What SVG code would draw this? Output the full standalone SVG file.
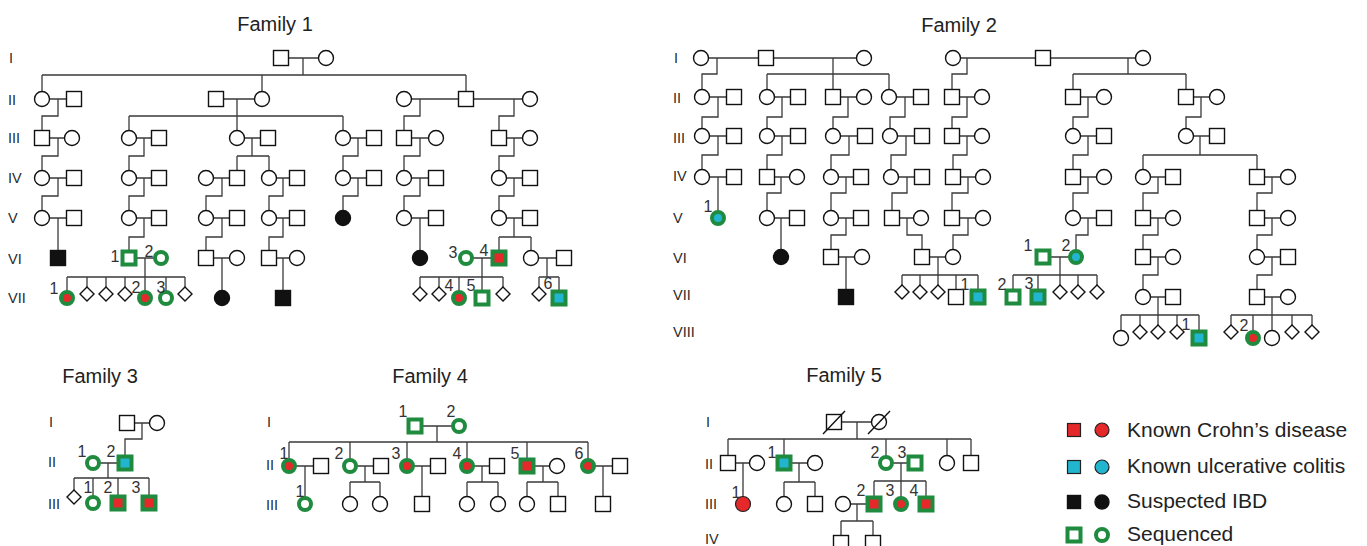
<svg xmlns="http://www.w3.org/2000/svg" width="1367" height="546" viewBox="0 0 1367 546">
<style>
.n{fill:#fff;stroke:#111;stroke-width:1.4}
.k{fill:#111;stroke:#111;stroke-width:1.4}
.g{fill:#fff;stroke:#1f8b3f;stroke-width:4}
.gr{fill:#e5282a;stroke:#1f8b3f;stroke-width:4}
.gc{fill:#22b5d0;stroke:#1f8b3f;stroke-width:4}
.r{fill:#e5282a;stroke:#222;stroke-width:1.2}
.c{fill:#22b5d0;stroke:#222;stroke-width:1.2}
.ln{fill:none;stroke:#3a3a3a;stroke-width:1.3}
.sl{stroke:#111;stroke-width:1.4}
text{font-family:"Liberation Sans",Arial,Helvetica,sans-serif}
.t{font-size:20px;fill:#222;text-anchor:middle}
.rn{font-size:14.5px;fill:#2a2a2a}
.lb{font-size:16px;fill:#333;text-anchor:middle}
.lg{font-size:21px;fill:#222}
</style>
<defs>
<rect id="S" x="-7.5" y="-7.5" width="15" height="15"/>
<circle id="C" r="7.5"/>
<rect id="GS" x="-6.5" y="-6.5" width="13" height="13"/>
<circle id="GC" r="6"/>
<path id="D" d="M0-7L7 0L0 7L-7 0Z"/>
</defs>
<rect width="1367" height="546" fill="#fff"/>

<g id="titles">
<text class="t" x="275" y="31">Family 1</text>
<text class="t" x="959" y="32">Family 2</text>
<text class="t" x="100" y="383">Family 3</text>
<text class="t" x="430" y="383">Family 4</text>
<text class="t" x="844" y="382">Family 5</text>
</g>
<g id="generations">
<text class="rn" x="9" y="63">I</text><text class="rn" x="8" y="105">II</text><text class="rn" x="8" y="143">III</text><text class="rn" x="8" y="183">IV</text><text class="rn" x="8" y="223">V</text><text class="rn" x="8" y="264">VI</text><text class="rn" x="8" y="303">VII</text>
<text class="rn" x="674" y="63">I</text><text class="rn" x="673" y="103">II</text><text class="rn" x="673" y="143">III</text><text class="rn" x="673" y="181">IV</text><text class="rn" x="673" y="223">V</text><text class="rn" x="673" y="263">VI</text><text class="rn" x="673" y="300">VII</text><text class="rn" x="673" y="337">VIII</text>
<text class="rn" x="49" y="427">I</text><text class="rn" x="48" y="467">II</text><text class="rn" x="48" y="509">III</text>
<text class="rn" x="267" y="427">I</text><text class="rn" x="266" y="470">II</text><text class="rn" x="266" y="510">III</text>
<text class="rn" x="706" y="427">I</text><text class="rn" x="705" y="469">II</text><text class="rn" x="705" y="509">III</text><text class="rn" x="705" y="544">IV</text>
</g>

<g id="connectors" class="ln">
<!-- Family 1 -->
<path d="M281 58H326M303 58V75M42 75H466M42 75V99M262 75V99M466 75V99
M42 99H74M58 99V116H42V138
M216 99H262M237 99V138M129 116H343M129 116V138M343 116V138
M404 99H530M420 99V116H404V138M514 99V116H499V138
M42 138H72M58 138V156H42V178
M129 138H159M144 138V156H129V178
M237 138H268M252 138V156M237 156H269M237 156V178M269 156V178
M343 138H374M358 138V156H343V178
M404 138H436M420 138V156H404V178
M499 138H530M514 138V156H499V178
M42 178H74M58 178V196H42V218
M129 178H159M144 178V196H129V218
M206 178H237M222 178V196H206V218
M269 178H297M283 178V196H269V218
M343 178H374M358 178V196H343V218
M404 178H436M420 178V196H404V218
M499 178H530M514 178V196H499V218
M42 218H74M58 218V258
M129 218H159M144 218V237H129V258
M206 218H237M222 218V237H206V258
M269 218H297M283 218V237H269V258
M404 218H436M420 218V258
M499 218H530M514 218V237M499 237H531M499 237V258M531 237V258
M129 258H161M145 258V298M67 277H185M67 277V298M87 277V294M106 277V294M125 277V294M166 277V298M185 277V294
M206 258H237M222 258V298
M269 258H297M283 258V298
M466 258H499M482 258V298M420 277H503M420 277V294M439 277V294M459 277V298M503 277V294
M531 258H564M547 258V277M539 277H559M539 277V294M559 277V298"/>
<!-- Family 2 -->
<path d="M701 58H864M953 58H1143
M717 58V74H702V97M833 58V97M767 74H889M767 74V97M889 74V97
M967 58V74H952V97M1128 58V74M1073 74H1186M1073 74V97M1186 74V97
M702 97H734M718 97V117H702V136
M767 97H798M782 97V117H767V136
M833 97H864M848 97V117H833V136
M889 97H921M905 97V117H890V136
M952 97H982M967 97V117H952V136
M1073 97H1104M1088 97V117H1073V136
M1186 97H1217M1201 97V117H1186V136
M702 136H734M718 136V155H702V177
M767 136H798M782 136V155H767V177
M833 136H865M849 136V155H831V177
M890 136H922M906 136V155H891V177
M952 136H982M967 136V155H953V177
M1073 136H1104M1088 136V155H1073V177
M1186 136H1217M1200 136V155M1143 155H1257M1143 155V177M1257 155V177
M702 177H734M718 177V218
M767 177H797M781 177V193H767V218
M831 177H861M846 177V193H831V218
M891 177H922M907 177V193H892V218
M953 177H983M968 177V193H952V218
M1073 177H1104M1088 177V193H1073V218
M1143 177H1173M1158 177V193H1143V218
M1257 177H1288M1272 177V193H1257V218
M767 218H797M781 218V257
M831 218H861M846 218V235H831V257
M892 218H921M907 218V235H922V257
M952 218H983M968 218V235H953V257
M1073 218H1104M1088 218V235H1076V257
M1143 218H1173M1158 218V235H1143V257
M1257 218H1288M1272 218V235H1257V257
M831 257H862M846 257V297
M922 257H953M938 257V292M902 275H978M902 275V292M920 275V292M956 275V297M978 275V297
M1043 257H1076M1060 257V292M1013 275H1097M1013 275V297M1038 275V297M1078 275V292M1097 275V292
M1143 257H1173M1158 257V275H1143V297
M1257 257H1288M1272 257V275H1257V297
M1143 297H1173M1158 297V332M1121 315H1199M1121 315V338M1140 315V332M1177 315V332M1199 315V338
M1257 297H1288M1272 297V338M1231 315H1312M1231 315V332M1253 315V338M1292 315V332M1312 315V332"/>
<!-- Family 3 -->
<path d="M127 423H157M142 423V439H125V463M93 463H125M108 463V478M74 478H149M74 478V497M93 478V503M118 478V503M149 478V503"/>
<!-- Family 4 -->
<path d="M415 426H459M437 426V442M289 442H588M289 442V466M350 442V466M407 442V466M467 442V466M527 442V466M588 442V466
M289 466H321M305 466V504
M350 466H381M365 466V482M350 482H380M350 482V504M380 482V504
M407 466H438M422 466V504
M467 466H497M482 466V482M467 482H498M467 482V504M498 482V504
M527 466H557M543 466V482M527 482H558M527 482V504M558 482V504
M588 466H620M603 466V504"/>
<!-- Family 5 -->
<path d="M834 422H879M857 422V439M728 439H971M728 439V463M784 439V463M886 439V463M947 439V463M971 439V463
M728 463H757M743 463V504
M784 463H815M799 463V482M784 482H815M784 482V504M815 482V504
M886 463H915M901 463V504M874 481H926M874 481V504M926 481V504
M843 504H874M857 504V521M841 521H873M841 521V543M873 521V543"/>
</g>

<g id="family1">
<g id="f1-I-1"><use href="#S" x="281" y="58" class="n"/></g>
<g id="f1-I-2"><use href="#C" x="326" y="58" class="n"/></g>
<g id="f1-II-1"><use href="#C" x="42" y="99" class="n"/></g>
<g id="f1-II-2"><use href="#S" x="74" y="99" class="n"/></g>
<g id="f1-II-3"><use href="#S" x="216" y="99" class="n"/></g>
<g id="f1-II-4"><use href="#C" x="262" y="99" class="n"/></g>
<g id="f1-II-5"><use href="#C" x="404" y="99" class="n"/></g>
<g id="f1-II-6"><use href="#S" x="466" y="99" class="n"/></g>
<g id="f1-II-7"><use href="#C" x="530" y="99" class="n"/></g>
<g id="f1-III-1"><use href="#S" x="42" y="138" class="n"/></g>
<g id="f1-III-2"><use href="#C" x="72" y="138" class="n"/></g>
<g id="f1-III-3"><use href="#C" x="129" y="138" class="n"/></g>
<g id="f1-III-4"><use href="#S" x="159" y="138" class="n"/></g>
<g id="f1-III-5"><use href="#C" x="237" y="138" class="n"/></g>
<g id="f1-III-6"><use href="#S" x="268" y="138" class="n"/></g>
<g id="f1-III-7"><use href="#C" x="343" y="138" class="n"/></g>
<g id="f1-III-8"><use href="#S" x="374" y="138" class="n"/></g>
<g id="f1-III-9"><use href="#S" x="404" y="138" class="n"/></g>
<g id="f1-III-10"><use href="#C" x="436" y="138" class="n"/></g>
<g id="f1-III-11"><use href="#S" x="499" y="138" class="n"/></g>
<g id="f1-III-12"><use href="#C" x="530" y="138" class="n"/></g>
<g id="f1-IV-1"><use href="#C" x="42" y="178" class="n"/></g>
<g id="f1-IV-2"><use href="#S" x="74" y="178" class="n"/></g>
<g id="f1-IV-3"><use href="#C" x="129" y="178" class="n"/></g>
<g id="f1-IV-4"><use href="#S" x="159" y="178" class="n"/></g>
<g id="f1-IV-5"><use href="#C" x="206" y="178" class="n"/></g>
<g id="f1-IV-6"><use href="#S" x="237" y="178" class="n"/></g>
<g id="f1-IV-7"><use href="#C" x="269" y="178" class="n"/></g>
<g id="f1-IV-8"><use href="#S" x="297" y="178" class="n"/></g>
<g id="f1-IV-9"><use href="#C" x="343" y="178" class="n"/></g>
<g id="f1-IV-10"><use href="#S" x="374" y="178" class="n"/></g>
<g id="f1-IV-11"><use href="#C" x="404" y="178" class="n"/></g>
<g id="f1-IV-12"><use href="#S" x="436" y="178" class="n"/></g>
<g id="f1-IV-13"><use href="#C" x="499" y="178" class="n"/></g>
<g id="f1-IV-14"><use href="#S" x="530" y="178" class="n"/></g>
<g id="f1-V-1"><use href="#C" x="42" y="218" class="n"/></g>
<g id="f1-V-2"><use href="#S" x="74" y="218" class="n"/></g>
<g id="f1-V-3"><use href="#C" x="129" y="218" class="n"/></g>
<g id="f1-V-4"><use href="#S" x="159" y="218" class="n"/></g>
<g id="f1-V-5"><use href="#C" x="206" y="218" class="n"/></g>
<g id="f1-V-6"><use href="#S" x="237" y="218" class="n"/></g>
<g id="f1-V-7"><use href="#C" x="269" y="218" class="n"/></g>
<g id="f1-V-8"><use href="#S" x="297" y="218" class="n"/></g>
<g id="f1-V-9"><use href="#C" x="343" y="218" class="k"/></g>
<g id="f1-V-10"><use href="#C" x="404" y="218" class="n"/></g>
<g id="f1-V-11"><use href="#S" x="436" y="218" class="n"/></g>
<g id="f1-V-12"><use href="#C" x="499" y="218" class="n"/></g>
<g id="f1-V-13"><use href="#S" x="530" y="218" class="n"/></g>
<g id="f1-VI-a"><use href="#S" x="58" y="258" class="k"/></g>
<g id="f1-VI-1"><use href="#GS" x="129" y="258" class="g"/><text class="lb" x="115" y="262">1</text></g>
<g id="f1-VI-2"><use href="#GC" x="161" y="258" class="g"/><text class="lb" x="149" y="257">2</text></g>
<g id="f1-VI-b"><use href="#S" x="206" y="258" class="n"/></g>
<g id="f1-VI-c"><use href="#C" x="237" y="258" class="n"/></g>
<g id="f1-VI-d"><use href="#S" x="269" y="258" class="n"/></g>
<g id="f1-VI-e"><use href="#C" x="297" y="258" class="n"/></g>
<g id="f1-VI-f"><use href="#C" x="420" y="258" class="k"/></g>
<g id="f1-VI-3"><use href="#GC" x="466" y="258" class="g"/><text class="lb" x="453" y="258">3</text></g>
<g id="f1-VI-4"><use href="#GS" x="499" y="258" class="gr"/><text class="lb" x="484" y="256">4</text></g>
<g id="f1-VI-g"><use href="#C" x="531" y="258" class="n"/></g>
<g id="f1-VI-h"><use href="#S" x="564" y="258" class="n"/></g>
<g id="f1-VII-1"><use href="#GC" x="67" y="298" class="gr"/><text class="lb" x="54" y="294">1</text></g>
<g id="f1-VII-a"><use href="#D" x="87" y="294" class="n"/></g>
<g id="f1-VII-b"><use href="#D" x="106" y="294" class="n"/></g>
<g id="f1-VII-c"><use href="#D" x="125" y="294" class="n"/></g>
<g id="f1-VII-2"><use href="#GC" x="145" y="298" class="gr"/><text class="lb" x="136" y="293">2</text></g>
<g id="f1-VII-3"><use href="#GC" x="166" y="298" class="g"/><text class="lb" x="161" y="293">3</text></g>
<g id="f1-VII-d"><use href="#D" x="185" y="294" class="n"/></g>
<g id="f1-VII-e"><use href="#C" x="222" y="298" class="k"/></g>
<g id="f1-VII-f"><use href="#S" x="283" y="298" class="k"/></g>
<g id="f1-VII-g"><use href="#D" x="420" y="294" class="n"/></g>
<g id="f1-VII-h"><use href="#D" x="439" y="294" class="n"/></g>
<g id="f1-VII-4"><use href="#GC" x="459" y="298" class="gr"/><text class="lb" x="449" y="291">4</text></g>
<g id="f1-VII-5"><use href="#GS" x="482" y="298" class="g"/><text class="lb" x="471" y="291">5</text></g>
<g id="f1-VII-i"><use href="#D" x="503" y="294" class="n"/></g>
<g id="f1-VII-j"><use href="#D" x="539" y="294" class="n"/></g>
<g id="f1-VII-6"><use href="#GS" x="559" y="298" class="gc"/><text class="lb" x="548" y="289">6</text></g>
</g>

<g id="family2">
<g id="f2-I-1"><use href="#C" x="701" y="58" class="n"/></g>
<g id="f2-I-2"><use href="#S" x="766" y="58" class="n"/></g>
<g id="f2-I-3"><use href="#C" x="864" y="58" class="n"/></g>
<g id="f2-I-4"><use href="#C" x="953" y="58" class="n"/></g>
<g id="f2-I-5"><use href="#S" x="1043" y="58" class="n"/></g>
<g id="f2-I-6"><use href="#C" x="1143" y="58" class="n"/></g>
<g id="f2-II-1"><use href="#C" x="702" y="97" class="n"/></g>
<g id="f2-II-2"><use href="#S" x="734" y="97" class="n"/></g>
<g id="f2-II-3"><use href="#C" x="767" y="97" class="n"/></g>
<g id="f2-II-4"><use href="#S" x="798" y="97" class="n"/></g>
<g id="f2-II-5"><use href="#S" x="833" y="97" class="n"/></g>
<g id="f2-II-6"><use href="#C" x="864" y="97" class="n"/></g>
<g id="f2-II-7"><use href="#C" x="889" y="97" class="n"/></g>
<g id="f2-II-8"><use href="#S" x="921" y="97" class="n"/></g>
<g id="f2-II-9"><use href="#S" x="952" y="97" class="n"/></g>
<g id="f2-II-10"><use href="#C" x="982" y="97" class="n"/></g>
<g id="f2-II-11"><use href="#S" x="1073" y="97" class="n"/></g>
<g id="f2-II-12"><use href="#C" x="1104" y="97" class="n"/></g>
<g id="f2-II-13"><use href="#S" x="1186" y="97" class="n"/></g>
<g id="f2-II-14"><use href="#C" x="1217" y="97" class="n"/></g>
<g id="f2-III-1"><use href="#C" x="702" y="136" class="n"/></g>
<g id="f2-III-2"><use href="#S" x="734" y="136" class="n"/></g>
<g id="f2-III-3"><use href="#C" x="767" y="136" class="n"/></g>
<g id="f2-III-4"><use href="#S" x="798" y="136" class="n"/></g>
<g id="f2-III-5"><use href="#C" x="833" y="136" class="n"/></g>
<g id="f2-III-6"><use href="#S" x="865" y="136" class="n"/></g>
<g id="f2-III-7"><use href="#C" x="890" y="136" class="n"/></g>
<g id="f2-III-8"><use href="#S" x="922" y="136" class="n"/></g>
<g id="f2-III-9"><use href="#S" x="952" y="136" class="n"/></g>
<g id="f2-III-10"><use href="#C" x="982" y="136" class="n"/></g>
<g id="f2-III-11"><use href="#C" x="1073" y="136" class="n"/></g>
<g id="f2-III-12"><use href="#S" x="1104" y="136" class="n"/></g>
<g id="f2-III-13"><use href="#C" x="1186" y="136" class="n"/></g>
<g id="f2-III-14"><use href="#S" x="1217" y="136" class="n"/></g>
<g id="f2-IV-1"><use href="#C" x="702" y="177" class="n"/></g>
<g id="f2-IV-2"><use href="#S" x="734" y="177" class="n"/></g>
<g id="f2-IV-3"><use href="#S" x="767" y="177" class="n"/></g>
<g id="f2-IV-4"><use href="#C" x="797" y="177" class="n"/></g>
<g id="f2-IV-5"><use href="#C" x="831" y="177" class="n"/></g>
<g id="f2-IV-6"><use href="#S" x="861" y="177" class="n"/></g>
<g id="f2-IV-7"><use href="#C" x="891" y="177" class="n"/></g>
<g id="f2-IV-8"><use href="#S" x="922" y="177" class="n"/></g>
<g id="f2-IV-9"><use href="#S" x="953" y="177" class="n"/></g>
<g id="f2-IV-10"><use href="#C" x="983" y="177" class="n"/></g>
<g id="f2-IV-11"><use href="#S" x="1073" y="177" class="n"/></g>
<g id="f2-IV-12"><use href="#C" x="1104" y="177" class="n"/></g>
<g id="f2-IV-13"><use href="#C" x="1143" y="177" class="n"/></g>
<g id="f2-IV-14"><use href="#S" x="1173" y="177" class="n"/></g>
<g id="f2-IV-15"><use href="#S" x="1257" y="177" class="n"/></g>
<g id="f2-IV-16"><use href="#C" x="1288" y="177" class="n"/></g>
<g id="f2-V-1"><use href="#GC" x="718" y="218" class="gc"/><text class="lb" x="708" y="212">1</text></g>
<g id="f2-V-2"><use href="#C" x="767" y="218" class="n"/></g>
<g id="f2-V-3"><use href="#S" x="797" y="218" class="n"/></g>
<g id="f2-V-4"><use href="#C" x="831" y="218" class="n"/></g>
<g id="f2-V-5"><use href="#S" x="861" y="218" class="n"/></g>
<g id="f2-V-6"><use href="#S" x="892" y="218" class="n"/></g>
<g id="f2-V-7"><use href="#C" x="921" y="218" class="n"/></g>
<g id="f2-V-8"><use href="#S" x="952" y="218" class="n"/></g>
<g id="f2-V-9"><use href="#C" x="983" y="218" class="n"/></g>
<g id="f2-V-10"><use href="#C" x="1073" y="218" class="n"/></g>
<g id="f2-V-11"><use href="#S" x="1104" y="218" class="n"/></g>
<g id="f2-V-12"><use href="#S" x="1143" y="218" class="n"/></g>
<g id="f2-V-13"><use href="#C" x="1173" y="218" class="n"/></g>
<g id="f2-V-14"><use href="#S" x="1257" y="218" class="n"/></g>
<g id="f2-V-15"><use href="#C" x="1288" y="218" class="n"/></g>
<g id="f2-VI-a"><use href="#C" x="781" y="257" class="k"/></g>
<g id="f2-VI-b"><use href="#S" x="831" y="257" class="n"/></g>
<g id="f2-VI-c"><use href="#C" x="862" y="257" class="n"/></g>
<g id="f2-VI-d"><use href="#S" x="922" y="257" class="n"/></g>
<g id="f2-VI-e"><use href="#C" x="953" y="257" class="n"/></g>
<g id="f2-VI-1"><use href="#GS" x="1043" y="257" class="g"/><text class="lb" x="1028" y="251">1</text></g>
<g id="f2-VI-2"><use href="#GC" x="1076" y="257" class="gc"/><text class="lb" x="1066" y="251">2</text></g>
<g id="f2-VI-f"><use href="#S" x="1143" y="257" class="n"/></g>
<g id="f2-VI-g"><use href="#C" x="1173" y="257" class="n"/></g>
<g id="f2-VI-h"><use href="#C" x="1257" y="257" class="n"/></g>
<g id="f2-VI-i"><use href="#S" x="1288" y="257" class="n"/></g>
<g id="f2-VII-a"><use href="#S" x="846" y="297" class="k"/></g>
<g id="f2-VII-b"><use href="#D" x="902" y="292" class="n"/></g>
<g id="f2-VII-c"><use href="#D" x="920" y="292" class="n"/></g>
<g id="f2-VII-d"><use href="#D" x="938" y="292" class="n"/></g>
<g id="f2-VII-e"><use href="#S" x="956" y="297" class="n"/></g>
<g id="f2-VII-1"><use href="#GS" x="978" y="297" class="gc"/><text class="lb" x="965" y="290">1</text></g>
<g id="f2-VII-2"><use href="#GS" x="1013" y="297" class="g"/><text class="lb" x="1002" y="290">2</text></g>
<g id="f2-VII-3"><use href="#GS" x="1038" y="297" class="gc"/><text class="lb" x="1029" y="289">3</text></g>
<g id="f2-VII-f"><use href="#D" x="1060" y="292" class="n"/></g>
<g id="f2-VII-g"><use href="#D" x="1078" y="292" class="n"/></g>
<g id="f2-VII-h"><use href="#D" x="1097" y="292" class="n"/></g>
<g id="f2-VII-i"><use href="#C" x="1143" y="297" class="n"/></g>
<g id="f2-VII-j"><use href="#S" x="1173" y="297" class="n"/></g>
<g id="f2-VII-k"><use href="#S" x="1257" y="297" class="n"/></g>
<g id="f2-VII-l"><use href="#C" x="1288" y="297" class="n"/></g>
<g id="f2-VIII-a"><use href="#C" x="1121" y="338" class="n"/></g>
<g id="f2-VIII-b"><use href="#D" x="1140" y="332" class="n"/></g>
<g id="f2-VIII-c"><use href="#D" x="1158" y="332" class="n"/></g>
<g id="f2-VIII-d"><use href="#D" x="1177" y="332" class="n"/></g>
<g id="f2-VIII-1"><use href="#GS" x="1199" y="338" class="gc"/><text class="lb" x="1186" y="330">1</text></g>
<g id="f2-VIII-e"><use href="#D" x="1231" y="332" class="n"/></g>
<g id="f2-VIII-2"><use href="#GC" x="1253" y="338" class="gr"/><text class="lb" x="1244" y="331">2</text></g>
<g id="f2-VIII-f"><use href="#C" x="1272" y="338" class="n"/></g>
<g id="f2-VIII-g"><use href="#D" x="1292" y="332" class="n"/></g>
<g id="f2-VIII-h"><use href="#D" x="1312" y="332" class="n"/></g>
</g>

<g id="family3">
<g id="f3-I-1"><use href="#S" x="127" y="423" class="n"/></g>
<g id="f3-I-2"><use href="#C" x="157" y="423" class="n"/></g>
<g id="f3-II-1"><use href="#GC" x="93" y="463" class="g"/><text class="lb" x="82" y="457">1</text></g>
<g id="f3-II-2"><use href="#GS" x="125" y="463" class="gc"/><text class="lb" x="111" y="457">2</text></g>
<g id="f3-III-a"><use href="#D" x="74" y="497" class="n"/></g>
<g id="f3-III-1"><use href="#GC" x="93" y="503" class="g"/><text class="lb" x="88" y="493">1</text></g>
<g id="f3-III-2"><use href="#GS" x="118" y="503" class="gr"/><text class="lb" x="108" y="493">2</text></g>
<g id="f3-III-3"><use href="#GS" x="149" y="503" class="gr"/><text class="lb" x="136" y="493">3</text></g>
</g>

<g id="family4">
<g id="f4-I-1"><use href="#GS" x="415" y="426" class="g"/><text class="lb" x="403" y="417">1</text></g>
<g id="f4-I-2"><use href="#GC" x="459" y="426" class="g"/><text class="lb" x="451" y="417">2</text></g>
<g id="f4-II-1"><use href="#GC" x="289" y="466" class="gr"/><text class="lb" x="284" y="459">1</text></g>
<g id="f4-II-1s"><use href="#S" x="321" y="466" class="n"/></g>
<g id="f4-II-2"><use href="#GC" x="350" y="466" class="g"/><text class="lb" x="339" y="459">2</text></g>
<g id="f4-II-2s"><use href="#S" x="381" y="466" class="n"/></g>
<g id="f4-II-3"><use href="#GC" x="407" y="466" class="gr"/><text class="lb" x="396" y="459">3</text></g>
<g id="f4-II-3s"><use href="#S" x="438" y="466" class="n"/></g>
<g id="f4-II-4"><use href="#GC" x="467" y="466" class="gr"/><text class="lb" x="457" y="459">4</text></g>
<g id="f4-II-4s"><use href="#S" x="497" y="466" class="n"/></g>
<g id="f4-II-5"><use href="#GS" x="527" y="466" class="gr"/><text class="lb" x="515" y="459">5</text></g>
<g id="f4-II-5s"><use href="#C" x="557" y="466" class="n"/></g>
<g id="f4-II-6"><use href="#GC" x="588" y="466" class="gr"/><text class="lb" x="579" y="459">6</text></g>
<g id="f4-II-6s"><use href="#S" x="620" y="466" class="n"/></g>
<g id="f4-III-1"><use href="#GC" x="305" y="504" class="g"/><text class="lb" x="300" y="497">1</text></g>
<g id="f4-III-a"><use href="#C" x="350" y="504" class="n"/></g>
<g id="f4-III-b"><use href="#C" x="380" y="504" class="n"/></g>
<g id="f4-III-c"><use href="#S" x="422" y="504" class="n"/></g>
<g id="f4-III-d"><use href="#C" x="467" y="504" class="n"/></g>
<g id="f4-III-e"><use href="#C" x="498" y="504" class="n"/></g>
<g id="f4-III-f"><use href="#C" x="527" y="504" class="n"/></g>
<g id="f4-III-g"><use href="#S" x="558" y="504" class="n"/></g>
<g id="f4-III-h"><use href="#S" x="603" y="504" class="n"/></g>
</g>

<g id="family5">
<g id="f5-I-1"><use href="#S" x="834" y="422" class="n"/><line class="sl" x1="823" y1="434" x2="845" y2="411"/></g>
<g id="f5-I-2"><use href="#C" x="879" y="422" class="n"/><line class="sl" x1="868" y1="434" x2="890" y2="411"/></g>
<g id="f5-II-a"><use href="#S" x="728" y="463" class="n"/></g>
<g id="f5-II-b"><use href="#C" x="757" y="463" class="n"/></g>
<g id="f5-II-1"><use href="#GS" x="784" y="463" class="gc"/><text class="lb" x="772" y="458">1</text></g>
<g id="f5-II-c"><use href="#C" x="815" y="463" class="n"/></g>
<g id="f5-II-2"><use href="#GC" x="886" y="463" class="g"/><text class="lb" x="875" y="458">2</text></g>
<g id="f5-II-3"><use href="#GS" x="915" y="463" class="g"/><text class="lb" x="902" y="458">3</text></g>
<g id="f5-II-d"><use href="#C" x="947" y="463" class="n"/></g>
<g id="f5-II-e"><use href="#S" x="971" y="463" class="n"/></g>
<g id="f5-III-1"><use href="#C" x="743" y="504" class="r"/><text class="lb" x="736" y="498">1</text></g>
<g id="f5-III-a"><use href="#C" x="784" y="504" class="n"/></g>
<g id="f5-III-b"><use href="#S" x="815" y="504" class="n"/></g>
<g id="f5-III-c"><use href="#C" x="843" y="504" class="n"/></g>
<g id="f5-III-2"><use href="#GS" x="874" y="504" class="gr"/><text class="lb" x="861" y="496">2</text></g>
<g id="f5-III-3"><use href="#GC" x="901" y="504" class="gr"/><text class="lb" x="890" y="496">3</text></g>
<g id="f5-III-4"><use href="#GS" x="926" y="504" class="gr"/><text class="lb" x="914" y="496">4</text></g>
<g id="f5-IV-a"><use href="#S" x="841" y="543" class="n"/></g>
<g id="f5-IV-b"><use href="#S" x="873" y="543" class="n"/></g>
</g>

<g id="legend">
<g id="lg-cd"><rect class="r" x="1067.5" y="423.5" width="13" height="13"/><circle class="r" cx="1102" cy="430" r="7"/><text class="lg" x="1127" y="437">Known Crohn’s disease</text></g>
<g id="lg-uc"><rect class="c" x="1067.5" y="460.5" width="13" height="13"/><circle class="c" cx="1102" cy="467" r="7"/><text class="lg" x="1127" y="473">Known ulcerative colitis</text></g>
<g id="lg-ibd"><rect class="k" x="1067.5" y="495.5" width="13" height="13"/><circle class="k" cx="1102" cy="502" r="7"/><text class="lg" x="1127" y="508">Suspected IBD</text></g>
<g id="lg-seq"><use href="#GS" x="1074" y="535" class="g"/><use href="#GC" x="1102" y="535" class="g"/><text class="lg" x="1127" y="541">Sequenced</text></g>
</g>
</svg>
